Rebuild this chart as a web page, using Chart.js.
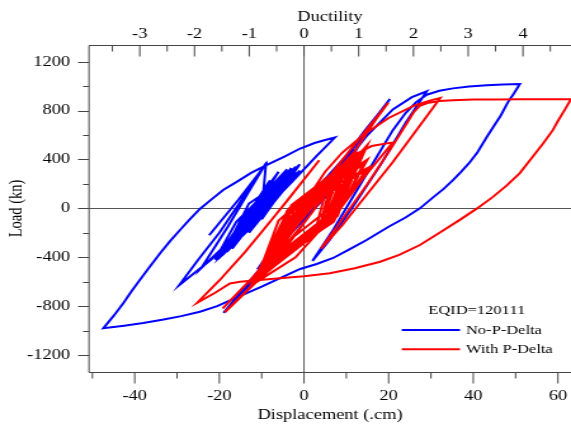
<!DOCTYPE html>
<html>
<head>
<meta charset="utf-8">
<script src="https://cdn.jsdelivr.net/npm/chart.js@4.4.1/dist/chart.umd.min.js"></script>
<style>
  html, body { margin: 0; padding: 0; background: #fff; overflow: hidden; }
  /* the plot is laid out narrow and stretched sideways, like the exported figure */
  #wrap { width: 450px; height: 428px; transform: scaleX(1.2689); transform-origin: 0 0; }
</style>
</head>
<body>
<div id="wrap"><canvas id="hysteresis" width="450" height="428"></canvas></div>
<script>
var STRETCH = 1.2689;

// axis ranges and ticks
var dispMin = -50.8, dispMax = 63.1;
var loadMin = -1339, loadMax = 1337;
var cmPerDuct = 12.935;
var dispTicks = [-40, -20, 0, 20, 40, 60];
var dispMinor = [-50, -30, -10, 10, 30, 50];
var loadTicks = [-1200, -800, -400, 0, 400, 800, 1200];
var loadMinor = [-1000, -600, -200, 200, 600, 1000];
var ductTicks = [-3, -2, -1, 0, 1, 2, 3, 4];
var ductMinor = [-3.5, -2.5, -1.5, -0.5, 0.5, 1.5, 2.5, 3.5, 4.5];

// No-P-Delta response (cm, kN)
var blueDisp = [0, 3, -2, 5, -4, 8, -1, -7, 4, 12, 0, -9, 5, 15, 0.5, -11,
  -5, 2, 9, 14, 17.5, 20.3,
  16, 10, 3, -4, -11, -19,
  -13, -6, 1, 8, 15, 21, 25.5, 29,
  24, 18.5, 11.6, 6, 2,
  7, 12, 17, 21, 24, 26.5, 29, 32, 35.2, 39, 43.2, 47, 51,
  49.6, 48.2, 46.5, 44.8, 43.2, 41, 39, 37, 35.2, 33, 30.5, 27.4, 24, 20, 14.8, 10.5, 6.9, 3, -0.9,
  -5, -10, -16.8, -20.5, -24.6, -29, -33.5, -38, -42.5, -47.4,
  -45, -42.7, -40.8, -38.8, -36.4, -34, -31.7, -29.3, -27, -24.6, -22, -19.1, -16, -12.5, -8.5,
  -4.5, -0.9, 2.5, 5, 7.3,
  3, -3, -9, -15, -22, -29.5,
  -25, -20, -15.5, -12, -8.8,
  -13, -18, -24.3,
  -12.5, -4, -13, -19, -9, -2, -11, -17, -9.8, -5, -14, -20, -9, -1, -10, -16, -10, -6,
  -13.3, -18, -9, -3, -10.5, -13, -3, -12, -5, -14, -2, -11, -4, -15, -10.2, -7, -13, -17,
  -9.3, -4, -10.2, -14, -8, -16, -21, -13.5,
  -6, -15, -3, -12, -6, -16, -7, -12, -2, -10, -5, -14, -8, -18, -13,
  -4, -12, -1, -13, -6, -17, -10,
  -9, -15.5, -22.4];
var blueLoad = [0, 130, -90, 240, -190, 350, 10, -330, 60, 480, 40, -420, 90, 620, 70, -500,
  -230, 80, 380, 620, 770, 895,
  690, 420, 100, -210, -520, -855,
  -630, -330, -20, 300, 600, 810, 910, 958,
  700, 380, 16, -260, -430,
  -170, 120, 410, 640, 780, 870, 930, 962, 982, 998, 1008, 1014, 1018,
  940, 870, 760, 670, 584, 460, 370, 295, 232, 160, 90, 0, -75, -150, -259, -340, -406, -455, -496,
  -560, -640, -743, -800, -846, -882, -912, -938, -960, -981,
  -880, -777, -680, -586, -475, -368, -270, -177, -90, -5, 70, 150, 215, 290, 360,
  425, 490, 535, 560, 580,
  430, 210, 0, -200, -420, -629,
  -420, -200, 30, 220, 378,
  140, -150, -490,
  -100, 320, -10, -370, -30, 340, 30, -300, -35, 260, -55, -400, -40, 360, 60, -270, -30, 230,
  -40, -340, -40, 290, 45, -120, 300, -80, 280, -150, 320, -60, 250, -230, -25, 200, -45, -310,
  -35, 270, 55, -180, 160, -110, -420, -50,
  300, -190, 330, -150, 210, -260, 140, -100, 300, -90, 180, -200, 230, -300, 40,
  250, -120, 310, -200, 190, -330, -20,
  360, 70, -220];

// With P-Delta response (cm, kN)
var redDisp = [0, 2, -2, 4, -4, 6, -6,
  5, 9, -4, -9, 6, 12, -2.5, -8, 4, 7, -6, -11, 6, 14, -3, -10, 5, 10, -3, -7, 7, 13, -4, -12, 7, 15,
  9, 3, -3, -10, -18.7,
  -12, -5, 2, 8, 12, 16, 21,
  16, 10, 4, -2, -12,
  4, 11, -3.5, -9, 4, 8, -3, -6, 7, 12,
  6, 0, -6, -12, -19.2,
  -13, -6, 1, 8, 13, 17, 19.9,
  14, 8, 2, -4, -10,
  6, 10, -3, -8, 8, 15, 0, -11, 5, 9, -4, -10, 7, 13, -2, -5, 8, 11, -1, -12, 6, 16, 2, -9, 3, 6, -5, -10,
  7, 14, -1, -11, 8, 12, -4, -9, 6, 15, 1, -12,
  -5, 0, 5, 9, 14, 20, 26, 29.5, 32.2,
  27, 21, 15, 9, 4,
  9, 15, 20, 24, 26, 27.4, 29.5, 32, 35.2, 40, 46, 51, 57, 63.1,
  61.5, 60, 58.8, 56.5, 54, 51, 48, 44.5, 40.9, 37, 32.5, 27.4, 22.5, 18, 12, 6.1, 0, -5.7,
  -10.5, -15.1, -17.5, -21, -25.2,
  -20, -14, -8, -2, 3.6, -4, -12.4];
var redLoad = [0, 90, -110, 170, -220, 250, -330,
  -30, 330, -40, -470, -70, 420, 30, -430, -110, 290, -100, -560, -90, 470, 20, -510, -110, 370, 25, -400, -20, 450, -30, -600, -100, 520,
  290, 20, -260, -560, -850,
  -620, -330, -30, 280, 440, 510, 540,
  330, 80, -170, -400, -620,
  -150, 400, 0, -480, -120, 310, 0, -380, -30, 430,
  210, -60, -320, -560, -819,
  -600, -320, -30, 260, 520, 730, 865,
  610, 350, 80, -200, -500,
  -60, 340, 10, -440, -40, 400, 60, -580, -150, 300, -60, -520, -80, 380, 50, -350, 0, 430, -20, -590, -120, 340, 40, -500, -140, 250, -140, -500,
  -110, 360, 20, -540, -60, 440, -20, -470, -130, 330, 70, -610,
  -250, 40, 300, 455, 600, 740, 840, 880, 904,
  660, 380, 120, -140, -330,
  -90, 200, 460, 680, 790, 840, 865, 878, 885, 890, 892, 893, 893, 893,
  800, 715, 640, 530, 420, 289, 190, 90, 0, -90, -190, -300, -380, -437, -490, -531, -555, -572,
  -586, -600, -615, -690, -772,
  -590, -360, -110, 150, 394, 60, -294];

function pairs(xs, ys) {
  return xs.map(function (v, i) { return { x: v, y: ys[i] }; });
}

var serif = '"Liberation Serif", "Times New Roman", serif';
Chart.defaults.font.family = serif;
Chart.defaults.color = '#000';
var labelFont = { family: serif, size: 14.5 };

// frame, zero lines, tick marks and the key
var framePlugin = {
  id: 'framePlugin',
  beforeDatasetsDraw: function (chart) {
    var ctx = chart.ctx, a = chart.chartArea;
    var x0 = chart.scales.x.getPixelForValue(0);
    var y0 = Math.round(chart.scales.y.getPixelForValue(0)) + 0.5;
    ctx.save();
    ctx.strokeStyle = '#555';
    ctx.lineWidth = 1;
    ctx.beginPath();
    ctx.moveTo(x0, a.top); ctx.lineTo(x0, a.bottom);
    ctx.moveTo(a.left, y0); ctx.lineTo(a.right, y0);
    ctx.stroke();
    ctx.restore();
  },
  afterDraw: function (chart) {
    var ctx = chart.ctx, a = chart.chartArea;
    var xs = chart.scales.x, ys = chart.scales.y, ds = chart.scales.duct;
    var top = Math.round(a.top) + 0.5, bottom = Math.round(a.bottom) + 0.5;
    var major = 11, minor = 6;
    ctx.save();
    ctx.strokeStyle = '#444';
    ctx.lineWidth = 1;
    ctx.beginPath();
    ctx.moveTo(a.left, top); ctx.lineTo(a.right, top);
    ctx.moveTo(a.left, top); ctx.lineTo(a.left, bottom);
    ctx.moveTo(a.left, bottom); ctx.lineTo(a.right, bottom);
    dispTicks.forEach(function (v) { var p = xs.getPixelForValue(v); ctx.moveTo(p, bottom); ctx.lineTo(p, bottom + major); });
    dispMinor.forEach(function (v) { var p = xs.getPixelForValue(v); ctx.moveTo(p, bottom); ctx.lineTo(p, bottom + minor); });
    ductTicks.forEach(function (v) { var p = ds.getPixelForValue(v); ctx.moveTo(p, top); ctx.lineTo(p, top + major); });
    ductMinor.forEach(function (v) { var p = ds.getPixelForValue(v); ctx.moveTo(p, top); ctx.lineTo(p, top + minor); });
    loadTicks.forEach(function (v) { var p = Math.round(ys.getPixelForValue(v)) + 0.5; ctx.moveTo(a.left, p); ctx.lineTo(a.left - major / STRETCH, p); });
    loadMinor.forEach(function (v) { var p = Math.round(ys.getPixelForValue(v)) + 0.5; ctx.moveTo(a.left, p); ctx.lineTo(a.left - minor / STRETCH, p); });
    ctx.stroke();

    // key
    var sets = chart.data.datasets;
    ctx.font = '13px ' + serif;
    ctx.fillStyle = '#000';
    ctx.textBaseline = 'middle';
    ctx.textAlign = 'center';
    ctx.fillText('EQID=120111', 375.7, 311);
    ctx.textAlign = 'left';
    [330, 349.3].forEach(function (y, i) {
      ctx.strokeStyle = sets[i].borderColor;
      ctx.lineWidth = 2;
      ctx.beginPath();
      ctx.moveTo(316.6, y); ctx.lineTo(362.5, y);
      ctx.stroke();
      ctx.fillText(sets[i].label, 367.2, y + 0.5);
    });
    ctx.restore();
  }
};

var ctx = document.getElementById('hysteresis').getContext('2d');

var hysteresisChart = new Chart(ctx, {
  type: 'scatter',
  data: {
    datasets: [{
      label: 'No-P-Delta',
      data: pairs(blueDisp, blueLoad),
      showLine: true,
      borderColor: '#0000ff',
      borderWidth: 2,
      pointRadius: 0,
      fill: false,
      order: 1
    }, {
      label: 'With P-Delta',
      data: pairs(redDisp, redLoad),
      showLine: true,
      borderColor: '#ff0000',
      borderWidth: 2,
      pointRadius: 0,
      fill: false,
      order: 0
    }]
  },
  options: {
    responsive: false,
    animation: false,
    layout: { padding: 0 },
    plugins: { legend: { display: false }, tooltip: { enabled: false } },
    scales: {
      x: {
        type: 'linear', position: 'bottom', min: dispMin, max: dispMax,
        afterBuildTicks: function (s) { s.ticks = dispTicks.map(function (v) { return { value: v }; }); },
        afterFit: function (s) { s.height = 56; s.paddingLeft = 0; s.paddingRight = 0; },
        grid: { display: false, drawTicks: false },
        border: { display: false },
        ticks: { font: labelFont, color: '#000', padding: 15, autoSkip: false, maxRotation: 0,
                 callback: function (v) { return String(v); } },
        title: { display: true, text: 'Displacement (.cm)', font: labelFont, color: '#000', padding: { top: 0, bottom: 4 } }
      },
      y: {
        type: 'linear', position: 'left', min: loadMin, max: loadMax,
        afterBuildTicks: function (s) { s.ticks = loadTicks.map(function (v) { return { value: v }; }); },
        afterFit: function (s) { s.width = 89 / STRETCH; s.paddingTop = 0; s.paddingBottom = 0; },
        grid: { display: false, drawTicks: false },
        border: { display: false },
        ticks: { font: labelFont, color: '#000', padding: 15, autoSkip: false,
                 callback: function (v) { return String(v); } },
        title: { display: true, text: 'Load (kn)', font: labelFont, color: '#000', padding: { top: 4, bottom: 0 } }
      },
      duct: {
        type: 'linear', position: 'top', axis: 'x',
        min: dispMin / cmPerDuct, max: dispMax / cmPerDuct,
        afterBuildTicks: function (s) { s.ticks = ductTicks.map(function (v) { return { value: v }; }); },
        afterFit: function (s) { s.height = 45; s.paddingLeft = 0; s.paddingRight = 0; },
        grid: { display: false, drawTicks: false },
        border: { display: false },
        ticks: { font: labelFont, color: '#000', padding: 2, autoSkip: false, maxRotation: 0,
                 callback: function (v) { return String(v); } },
        title: { display: true, text: 'Ductility', font: labelFont, color: '#000', padding: { top: 8, bottom: 0 } }
      }
    }
  },
  plugins: [framePlugin]
});
</script>
</body>
</html>
